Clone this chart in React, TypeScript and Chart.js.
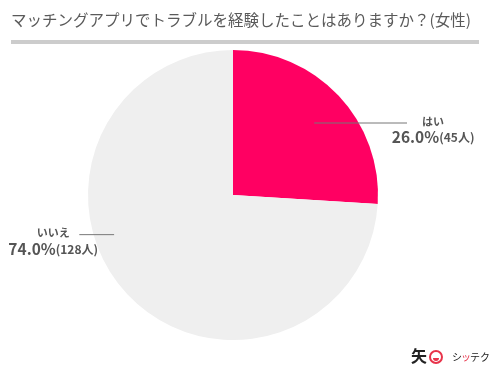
import React, { useEffect, useRef } from "react";
import { Chart, registerables } from "chart.js";
Chart.register(...registerables);

const title = "マッチングアプリでトラブルを経験したことはありますか？(女性)";
const categories = ["はい", "いいえ"];
const percents = [26.0, 74.0];
const counts = [45, 128];
const colors = ["#ff0062", "#efefef"];

const JP = '"Noto Sans CJK JP", "Noto Sans", sans-serif';

const overlay = {
  id: "overlay",
  afterDraw(chart: any) {
    const ctx = chart.ctx as CanvasRenderingContext2D;
    const arcs = chart.getDatasetMeta(0).data;
    const cx = arcs[0].x, cy = arcs[0].y, r = arcs[0].outerRadius;
    ctx.save();
    // title
    ctx.fillStyle = "#5a5a5a";
    ctx.font = `15.5px ${JP}`;
    ctx.textBaseline = "middle";
    ctx.textAlign = "left";
    ctx.fillText(title, 11, 20);
    ctx.fillStyle = "#cccccc";
    ctx.fillRect(11, 40, 468, 4);

    // labels
    const lbl = [
      { lx1: cx + r * 0.56, lx2: cx + r * 1.2, ly: cy - r * 0.50, tx: cx + r * 1.38 },
      { lx1: cx - r * 1.06, lx2: cx - r * 0.82, ly: cy + r * 0.27, tx: cx - r * 1.24 },
    ];
    categories.forEach((c, i) => {
      const L = lbl[i];
      ctx.strokeStyle = "#777";
      ctx.lineWidth = 1;
      ctx.beginPath();
      ctx.moveTo(L.lx1, L.ly + 0.5);
      ctx.lineTo(L.lx2, L.ly + 0.5);
      ctx.stroke();
      ctx.fillStyle = "#555";
      ctx.textAlign = "center";
      ctx.font = `bold 11px ${JP}`;
      ctx.fillText(c, L.tx, L.ly - 1);
      const big = percents[i].toFixed(1) + "%";
      const small = `(${counts[i]}人)`;
      ctx.font = `bold 15.5px ${JP}`;
      const wb = ctx.measureText(big).width;
      ctx.font = `bold 12px ${JP}`;
      const ws = ctx.measureText(small).width;
      const x0 = L.tx - (wb + ws) / 2;
      ctx.textAlign = "left";
      ctx.font = `bold 15.5px ${JP}`;
      ctx.fillText(big, x0, L.ly + 15);
      ctx.font = `bold 12px ${JP}`;
      ctx.fillText(small, x0 + wb, L.ly + 15);
    });

    // logo
    ctx.fillStyle = "#222";
    ctx.font = `bold 16px ${JP}`;
    ctx.textAlign = "center";
    ctx.fillText("矢", 419, 356);
    ctx.strokeStyle = "#e8334a";
    ctx.lineWidth = 2;
    ctx.beginPath();
    ctx.arc(436, 357, 6, 0, Math.PI * 2);
    ctx.stroke();
    ctx.fillStyle = "#e8334a";
    ctx.beginPath();
    ctx.arc(436, 358, 3, 0, Math.PI);
    ctx.fill();
    ctx.font = `10px ${JP}`;
    ctx.textAlign = "left";
    ctx.fillStyle = "#222";
    ctx.fillText("シ", 452, 357);
    ctx.fillStyle = "#e8334a";
    ctx.fillText("ッ", 461, 357);
    ctx.fillStyle = "#222";
    ctx.fillText("テク", 470, 357);
    ctx.restore();
  },
};

export default function App() {
  const ref = useRef<HTMLCanvasElement>(null);
  useEffect(() => {
    document.body.style.margin = "0";
    const chart = new Chart(ref.current!, {
      type: "pie",
      data: {
        labels: categories,
        datasets: [{ data: percents, backgroundColor: colors, borderWidth: 0 }],
      },
      options: {
        animation: false,
        responsive: false,
        layout: { padding: { top: 50, bottom: 34, left: 0, right: 25 } },
        plugins: { legend: { display: false }, tooltip: { enabled: false }, title: { display: false } },
      },
      plugins: [overlay],
    });
    return () => chart.destroy();
  }, []);
  return (
    <div style={{ position: "fixed", left: 0, top: 0, width: 491, height: 374, background: "#fff" }}>
      <canvas ref={ref} width={491} height={374} style={{ width: 491, height: 374 }} />
    </div>
  );
}
